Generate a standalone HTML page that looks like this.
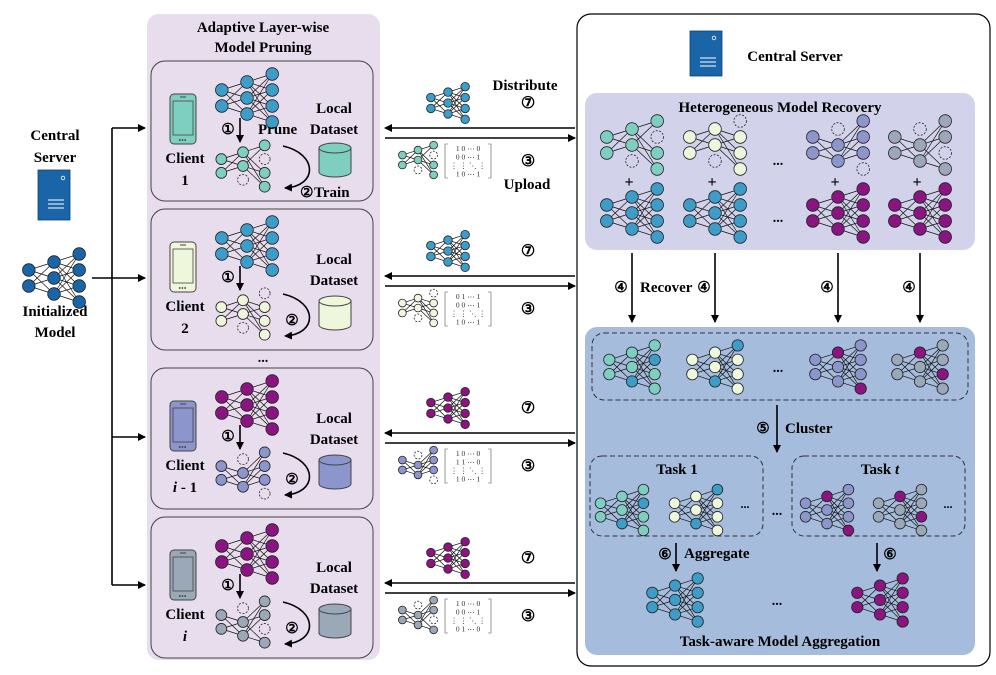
<!DOCTYPE html>
<html><head><meta charset="utf-8"><style>
html,body{margin:0;padding:0;background:#fff}
svg{display:block;font-family:"Liberation Serif",serif;font-weight:bold}
</style></head><body>
<svg id="s" width="996" height="675" viewBox="0 0 996 675" xmlns="http://www.w3.org/2000/svg">
<defs>
<marker id="ah" markerWidth="8" markerHeight="8" refX="7" refY="4" orient="auto" markerUnits="userSpaceOnUse"><path d="M0,0 L8,4 L0,8 Z" fill="#000"/></marker>
</defs>
<rect x="147" y="14" width="233" height="646" rx="12" fill="#e8dded"/>
<rect x="577" y="14" width="413" height="652" rx="14" fill="#fff" stroke="#000" stroke-width="1.2"/>
<rect x="585" y="93" width="390" height="157" rx="12" fill="#d2d2ea"/>
<rect x="585" y="327" width="390" height="328" rx="12" fill="#a6bcdc"/>
<rect x="592" y="333" width="376" height="67" rx="12" fill="none" stroke="#333" stroke-dasharray="5,3"/>
<rect x="590" y="456" width="173" height="80" rx="12" fill="none" stroke="#333" stroke-dasharray="5,3"/>
<rect x="792" y="456" width="173" height="80" rx="12" fill="none" stroke="#333" stroke-dasharray="5,3"/>
<g id="g"></g>
<g font-size="15" text-anchor="middle">
<text x="263" y="32">Adaptive Layer-wise</text><text x="263" y="52">Model Pruning</text>
<text x="55" y="140">Central</text><text x="55" y="162">Server</text>
<text x="55" y="316">Initialized</text><text x="55" y="337">Model</text>
<text x="795" y="61">Central Server</text>
<text x="780" y="112">Heterogeneous Model Recovery</text>
<text x="780" y="646">Task-aware Model Aggregation</text>
<text x="677" y="474">Task 1</text><text x="880" y="474">Task <tspan font-style="italic">t</tspan></text>
<text x="525" y="90">Distribute</text><text x="527" y="189">Upload</text>
</g>
<g font-size="15">
<text x="640" y="292">Recover</text>
<text x="785" y="433">Cluster</text>
<text x="684" y="558">Aggregate</text>
</g>
</svg>
<script>
var g=document.getElementById('g'),h='';
function add(s){h+=s;}
var LY=[[-8,8],[-16,0,16],[-24,-8,8,24]],LX=[-24,0,24];
function net(cx,cy,s,base,miss,over,ro){miss=miss||[];over=over||{};var r=(ro||6.3)*s;
 var P=[];for(var l=0;l<3;l++){P[l]=[];for(var i=0;i<LY[l].length;i++){P[l].push({x:cx+LX[l]*s*1.05,y:cy+LY[l][i]*s,m:miss.indexOf(l+'-'+i)>=0,c:over[l+'-'+i]||base});}}
 for(var l=0;l<2;l++)P[l].forEach(function(a){if(a.m)return;P[l+1].forEach(function(b){if(b.m)return;add('<line x1="'+a.x+'" y1="'+a.y+'" x2="'+b.x+'" y2="'+b.y+'" stroke="#111" stroke-width="0.7"/>');});});
 P.forEach(function(L){L.forEach(function(n){if(n.m)add('<circle cx="'+n.x+'" cy="'+n.y+'" r="'+r+'" fill="none" stroke="#222" stroke-width="0.8" stroke-dasharray="2,1.5"/>');else add('<circle cx="'+n.x+'" cy="'+n.y+'" r="'+r+'" fill="'+n.c+'" stroke="#222" stroke-width="0.8"/>');});});}
function T(x,y,t,fs,anc,extra){add('<text x="'+x+'" y="'+y+'" font-size="'+(fs||15)+'" text-anchor="'+(anc||'middle')+'" '+(extra||'')+'>'+t+'</text>');}
function arr(x1,y1,x2,y2,w){add('<line x1="'+x1+'" y1="'+y1+'" x2="'+x2+'" y2="'+y2+'" stroke="#000" stroke-width="'+(w||1.6)+'" marker-end="url(#ah)"/>');}
var TE='#7fcfc0',BL='#3d9cc8',YE='#eef6dc',PE='#8c95cc',GR='#9aa8b8',PU='#8a1580',DB='#1a64a8';
add('<rect x="38" y="170" width="32" height="50" fill="'+DB+'" stroke="#0d3f70" stroke-width="0.8"/><circle cx="63" cy="178" r="1.8" fill="none" stroke="#fff" stroke-width="0.8"/><path d="M48 200h16M48 204h16M48 208h16" stroke="#fff" stroke-width="1"/>');
add('<rect x="690" y="31" width="32" height="45" fill="'+DB+'" stroke="#0d3f70" stroke-width="0.8"/><circle cx="714" cy="38" r="1.8" fill="none" stroke="#fff" stroke-width="0.8"/><path d="M700 58h16M700 62h16M700 66h16" stroke="#fff" stroke-width="1"/>');
net(54,278,1,DB);
add('<path d="M92 278H112M112 128V585" stroke="#000" stroke-width="1.6" fill="none"/>');
[128,278,437,585].forEach(function(y){arr(112,y,145,y);});
var C=[{o:0,top:BL,pc:TE,miss:['1-2','2-1'],lab:['Client','1'],mat:['1 0 ⋯ 0','0 0 ⋯ 1','⋮ ⋮ ⋱ ⋮','1 0 ⋯ 1']},
{o:148,top:BL,pc:YE,miss:['1-2','2-0'],lab:['Client','2'],mat:['0 1 ⋯ 1','0 0 ⋯ 1','⋮ ⋮ ⋱ ⋮','1 0 ⋯ 1']},
{o:307,top:PU,pc:PE,miss:['1-0','2-3'],lab:['Client','<tspan font-style="italic">i</tspan> - 1'],mat:['1 0 ⋯ 0','1 1 ⋯ 0','⋮ ⋮ ⋱ ⋮','1 0 ⋯ 1']},
{o:456,top:PU,pc:GR,miss:['1-0','2-2'],lab:['Client','<tspan font-style="italic">i</tspan>'],mat:['1 0 ⋯ 0','0 0 ⋯ 1','⋮ ⋮ ⋱ ⋮','0 1 ⋯ 0']}];
C.forEach(function(c,k){var o=c.o;
 add('<rect x="151" y="'+(61+o)+'" width="222" height="'+(k==0?140:141)+'" rx="14" fill="none" stroke="#444" stroke-width="1"/>');
 add('<rect x="170" y="'+(94+o)+'" width="26" height="50" rx="4" fill="'+c.pc+'" stroke="#444" stroke-width="1"/><rect x="173" y="'+(101+o)+'" width="20" height="34" fill="'+c.pc+'" stroke="#444" stroke-width="0.8"/><path d="M180 '+(97+o)+'h6" stroke="#444"/><path d="M179 '+(140+o)+'h8" stroke="#333" stroke-width="1.6" stroke-dasharray="1.5,1.2"/>');
 T(185,163+o,c.lab[0]);T(185,185+o,c.lab[1]);
 net(247,98+o,1,c.top);
 arr(240,118+o,240,142+o);
 T(228,134+o,'①',15);
 if(k==0)T(258,134+o,'Prune',15,'start');
 net(243,166+o,0.86,c.pc,c.miss);
 add('<path d="M283 '+(146+o)+' C318 '+(154+o)+' 318 '+(186+o)+' 285 '+(188+o)+'" fill="none" stroke="#000" stroke-width="1.6" marker-end="url(#ah)"/>');
 T(k==0?300:292,197+o-(k==0?0:20),'②',15,k==0?'start':'middle');
 if(k==0)T(314,197,'Train',15,'start');
 T(334,113+o+(k==0?0:3),'Local');T(334,134+o+(k==0?0:3),'Dataset');
 var cy=150+o+(k==0?-2:3);
 add('<path d="M319 '+cy+' v24 a16 5 0 0 0 32 0 v-24" fill="'+c.pc+'" stroke="#444"/><ellipse cx="335" cy="'+cy+'" rx="16" ry="5" fill="'+c.pc+'" stroke="#444"/>');
 var ya=128+[0,148,305,455][k];
 arr(575,ya,385,ya);arr(385,ya+10,575,ya+10);
 net(448,ya-25,0.68,c.top);
 net(418,ya+32,0.62,c.pc,c.miss);
 add('<path d="M448 '+(ya+16)+'h-3v34h3M488 '+(ya+16)+'h3v34h-3" fill="none" stroke="#555" stroke-width="0.6"/>');
 c.mat.forEach(function(m,j){T(468,ya+23+j*8.5,m,7.5,'middle','font-weight="normal" fill="#333"');});
 T(528,ya-20,'⑦',16);T(528,ya+38,'③',16);
});
T(263,362,'...',14);
var cols=[632,715,838,920];
var R=[{b:TE,m:['1-2','2-1'],full:BL,ov:{'1-2':BL,'2-1':BL}},{b:YE,m:['1-2','2-0'],full:BL,ov:{'1-2':BL,'2-0':BL}},{b:PE,m:['1-0','2-3'],full:PU,ov:{'1-0':PU,'2-3':PU}},{b:GR,m:['1-0','2-2'],full:PU,ov:{'1-0':PU,'2-2':PU}}];
R.forEach(function(r,i){var x=cols[i];net(x,145,1,r.b,r.m);T(x-3,187,'+',16);net(x,213,1,r.full);
 arr(x,253,x,322);T(x-11,292,'④',15);
 net(x,367,0.9,r.b,[],r.ov);});
T(778,165,'...',14);T(778,222,'...',14);T(778,372,'...',14);
arr(777,405,777,452);T(763,433,'⑤',15);
net(622,510,0.85,TE,[],R[0].ov);net(696,510,0.85,YE,[],R[1].ov);T(745,508,'...',12);
net(827,510,0.85,PE,[],R[2].ov);net(900,510,0.85,GR,[],R[3].ov);T(948,508,'...',12);T(777,515,'...',14);
arr(676,543,676,571);T(665,559,'⑥',15);
arr(877,543,877,571);T(890,559,'⑥',15);
net(675,600,0.9,BL);net(880,600,0.9,PU);T(777,605,'...',14);
g.innerHTML=h;
</script>
</body></html>
